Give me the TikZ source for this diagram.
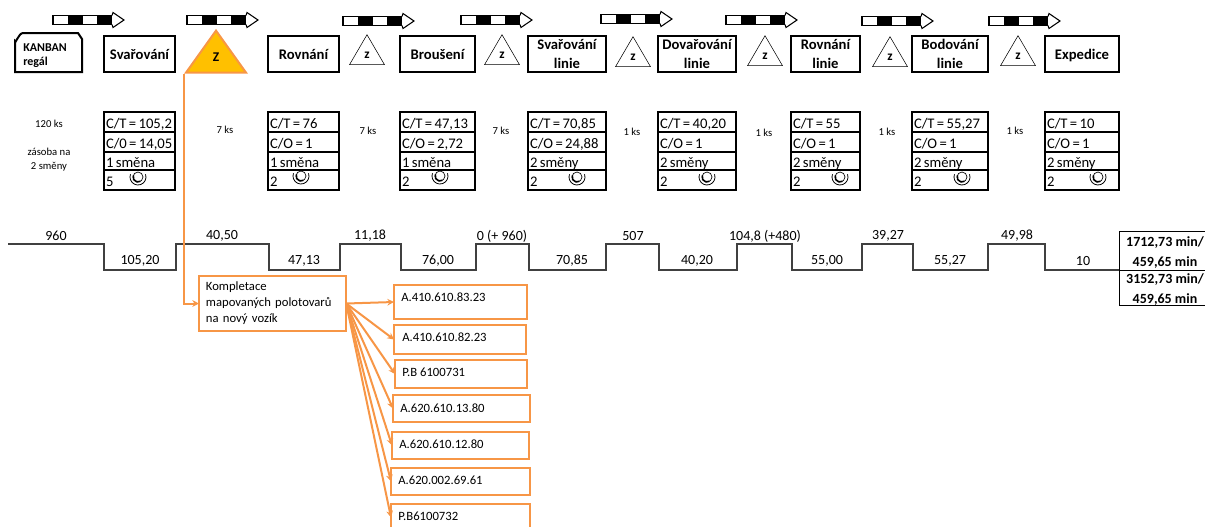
\documentclass[tikz,border=0pt]{standalone}
\usepackage{fontspec}
\setmainfont{Carlito}
\usepackage{xcolor}
\usetikzlibrary{shapes.geometric,arrows.meta,positioning}
\definecolor{lineorange}{HTML}{F79646}
\definecolor{zfill}{HTML}{FFC000}
\begin{document}
\begin{tikzpicture}[
      x=0.75pt,y=-0.75pt,
      boxsize/.style 2 args={minimum width=#1*0.75pt,minimum height=#2*0.75pt},
      proc/.style={draw,line width=1.5pt,anchor=north west,outer sep=0pt,inner sep=0pt,text depth=0pt,
                   font=\bfseries\fontsize{11}{14.5}\selectfont,align=center},
      cell/.style 2 args={draw,line width=1.5pt,anchor=north west,outer sep=0pt,inner xsep=1.5pt,inner ysep=0pt,
                   text width=#1*0.75pt-3pt,minimum height=#2*0.75pt,
                   text height=10pt,text depth=1pt,font=\fontsize{11}{13}\selectfont,
                   execute at begin node={\spaceskip=1.76pt\relax}},
      ztri/.style={draw,isosceles triangle,isosceles triangle stretches,shape border rotate=90,
                   anchor=apex,inner sep=0pt,minimum width=26.25pt,minimum height=22.5pt,
                   font=\bfseries\fontsize{10}{12}\selectfont},
      stock/.style={font=\fontsize{8}{10.5}\selectfont,align=center},
      val/.style={font=\fontsize{10.5}{12}\selectfont},
      total/.style={draw,line width=0.7pt,anchor=north west,outer sep=0pt,inner sep=0pt,align=center,
                    text height=25pt,font=\bfseries\fontsize{10.5}{15}\selectfont},
      part/.style={draw=lineorange,line width=1.5pt,anchor=north west,outer sep=0pt,inner sep=0pt},
      partlbl/.style={anchor=west,font=\fontsize{9.5}{12}\selectfont,inner sep=0pt},
      arr/.style={-{Stealth[length=5pt,width=5pt]},line width=1.5pt,lineorange},
      pusharrow/.pic={
        \draw[line width=0.8pt] (0,-4.5) rectangle (59,4.5);
        \fill (15,-4.5) rectangle (30,4.5);
        \fill (44,-4.5) rectangle (59,4.5);
        \draw[line width=0.8pt,fill=white] (59,-4.5) -- (60,-7.5) -- (71,0) -- (60,7.5) -- (59,4.5);
      },
      horn/.pic={
        \draw[line width=0.6pt] (0,0) ++(-20:8) arc[start angle=-20,end angle=200,radius=8];
        \draw[line width=1.2pt] (0,0) ++(60:5) arc[start angle=60,end angle=200,radius=5];
        \draw[line width=0.5pt] (0,0) circle[radius=5];
      },
  ]
  \clip (0,0) rectangle (1205,526);

  % Push arrows
  \pic at (53,20) {pusharrow};
  \pic at (187,20) {pusharrow};
  \pic at (343,21) {pusharrow};
  \pic at (461,20) {pusharrow};
  \pic at (601,19) {pusharrow};
  \pic at (726,20) {pusharrow};
  \pic at (862,21) {pusharrow};
  \pic at (989,21) {pusharrow};

  % Kanban
  \draw[line width=1.5pt] (15,72) -- (15,41) to[out=-90,in=180] (23,33) -- (78,33) -- (82,39) -- (82,72) -- cycle;
  \node[anchor=north west,inner sep=0pt,align=left,font=\bfseries\fontsize{9}{10.5}\selectfont] (kanban) at (23,43) {KANBAN\\regál};

  % Process boxes
  \node[proc,boxsize={71}{36}] (svar) at (104,36) {Svařování};
  \node[proc,boxsize={71}{36}] (rov) at (268,36) {Rovnání};
  \node[proc,boxsize={75}{36}] (brou) at (400,36) {Broušení};
  \node[proc,boxsize={78}{36}] (svarl) at (528,36) {Svařování\\linie};
  \node[proc,boxsize={78}{36}] (dova) at (658,36) {Dovařování\\linie};
  \node[proc,boxsize={69}{36}] (rovl) at (791,36) {Rovnání\\linie};
  \node[proc,boxsize={76}{36}] (bod) at (912,36) {Bodování\\linie};
  \node[proc,boxsize={74}{36}] (exp) at (1045,36) {Expedice};

  % Triangles
  \node[ztri,draw=lineorange,line width=1.5pt,fill=zfill,minimum width=45pt,minimum height=31.5pt] (zmain) at (216,28) {Z};
  \node[ztri] (z1) at (367,34) {z};
  \node[ztri] (z2) at (502,34) {z};
  \node[ztri] (z3) at (633,36) {z};
  \node[ztri] (z4) at (765,35) {z};
  \node[ztri] (z5) at (890,36) {z};
  \node[ztri] (z6) at (1018,35) {z};

  % Data boxes
  \node[cell={71}{20}] (ct1) at (104,112) {C/T = 105,2};
  \node[cell={71}{20}] (co1) at (104,132) {C/0 = 14,05};
  \node[cell={71}{18}] (sm1) at (104,152) {1 směna};
  \node[cell={71}{20}] (op1) at (104,170) {5};
  \node[cell={71}{20}] (ct2) at (268,112) {C/T = 76};
  \node[cell={71}{20}] (co2) at (268,132) {C/O = 1};
  \node[cell={71}{18}] (sm2) at (268,152) {1 směna};
  \node[cell={71}{20}] (op2) at (268,170) {2};
  \node[cell={75}{20}] (ct3) at (400,112) {C/T = 47,13};
  \node[cell={75}{20}] (co3) at (400,132) {C/O = 2,72};
  \node[cell={75}{18}] (sm3) at (400,152) {1 směna};
  \node[cell={75}{20}] (op3) at (400,170) {2};
  \node[cell={78}{20}] (ct4) at (528,112) {C/T = 70,85};
  \node[cell={78}{20}] (co4) at (528,132) {C/O = 24,88};
  \node[cell={78}{18}] (sm4) at (528,152) {2 směny};
  \node[cell={78}{20}] (op4) at (528,170) {2};
  \node[cell={78}{20}] (ct5) at (658,112) {C/T = 40,20};
  \node[cell={78}{20}] (co5) at (658,132) {C/O = 1};
  \node[cell={78}{18}] (sm5) at (658,152) {2 směny};
  \node[cell={78}{20}] (op5) at (658,170) {2};
  \node[cell={69}{20}] (ct6) at (791,112) {C/T = 55};
  \node[cell={69}{20}] (co6) at (791,132) {C/O = 1};
  \node[cell={69}{18}] (sm6) at (791,152) {2 směny};
  \node[cell={69}{20}] (op6) at (791,170) {2};
  \node[cell={76}{20}] (ct7) at (912,112) {C/T = 55,27};
  \node[cell={76}{20}] (co7) at (912,132) {C/O = 1};
  \node[cell={76}{18}] (sm7) at (912,152) {2 směny};
  \node[cell={76}{20}] (op7) at (912,170) {2};
  \node[cell={74}{20}] (ct8) at (1045,112) {C/T = 10};
  \node[cell={74}{20}] (co8) at (1045,132) {C/O = 1};
  \node[cell={74}{18}] (sm8) at (1045,152) {2 směny};
  \node[cell={74}{20}] (op8) at (1045,170) {2};

  % Operators
  \pic at (138,177) {horn};
  \pic at (301,176) {horn};
  \pic at (440,176) {horn};
  \pic at (577,177) {horn};
  \pic at (707,177) {horn};
  \pic at (840,177) {horn};
  \pic at (962,177) {horn};
  \pic at (1098,177) {horn};

  % Stock
  \node[stock] (st0) at (49,124) {120 ks};
  \node[stock] (st0b) at (49,160) {zásoba na\\2 směny};
  \node[stock] (st1) at (225,130) {7 ks};
  \node[stock] (st2) at (368,131) {7 ks};
  \node[stock] (st3) at (501,131) {7 ks};
  \node[stock] (st4) at (632,132) {1 ks};
  \node[stock] (st5) at (764,133) {1 ks};
  \node[stock] (st6) at (887,132) {1 ks};
  \node[stock] (st7) at (1015,131) {1 ks};

  % Timeline
  \draw[line width=0.9pt,black!75] (8,244) -- (104,244) -- (104,270) -- (176,270) -- (176,244) -- (269,244)
    -- (269,270) -- (340,270) -- (340,244) -- (401,244) -- (401,270) -- (476,270) -- (476,244) -- (529,244)
    -- (529,270) -- (606,270) -- (606,244) -- (659,244) -- (659,270) -- (737,270) -- (737,244) -- (792,244)
    -- (792,270) -- (862,270) -- (862,244) -- (913,244) -- (913,270) -- (988,270) -- (988,244) -- (1045,244)
    -- (1045,270) -- (1119,270);
  \node[val] (t1) at (56,236) {960};
  \node[val] (t2) at (140,261) {105,20};
  \node[val] (t3) at (222,236) {40,50};
  \node[val] (t4) at (304,261) {47,13};
  \node[val] (t5) at (370,236) {11,18};
  \node[val] (t6) at (438,261) {76,00};
  \node[val] (t7) at (502,236) {0 (+ 960)};
  \node[val] (t8) at (572,261) {70,85};
  \node[val] (t9) at (633,236) {507};
  \node[val] (t10) at (697,261) {40,20};
  \node[val] (t11) at (765,236) {104,8 (+480)};
  \node[val] (t12) at (827,261) {55,00};
  \node[val] (t13) at (888,236) {39,27};
  \node[val] (t14) at (950,261) {55,27};
  \node[val] (t15) at (1017,236) {49,98};
  \node[val] (t16) at (1083,261) {10};

  % Totals
  \node[total,boxsize={92}{39}] (lead) at (1119,231) {1712,73 min/\\459,65 min};
  \node[total,boxsize={92}{35}] (leadb) at (1119,270) {3152,73 min/\\459,65 min};

  % Kompletace
  \node[part,boxsize={147}{55},align=left,inner xsep=5.2pt,text width=100pt,
        font=\fontsize{9.5}{12}\selectfont] (komp) at (199,276) {Kompletace\\mapovaných polotovarů\\na nový vozík};
  \node[part,boxsize={133}{34}] (p1) at (394,285) {};
  \node[part,boxsize={132}{29}] (p2) at (394,325) {};
  \node[part,boxsize={132}{28}] (p3) at (395,360) {};
  \node[part,boxsize={137}{27}] (p4) at (393,395) {};
  \node[part,boxsize={137}{27}] (p5) at (392,432) {};
  \node[part,boxsize={139}{27}] (p6) at (391,468) {};
  \node[part,boxsize={139}{27}] (p7) at (391,504) {};
  \node[partlbl] (l1) at (401,297) {A.410.610.83.23};
  \node[partlbl] (l2) at (402,337) {A.410.610.82.23};
  \node[partlbl] (l3) at (402,372) {P.B 6100731};
  \node[partlbl] (l4) at (400,408) {A.620.610.13.80};
  \node[partlbl] (l5) at (399,444) {A.620.610.12.80};
  \node[partlbl] (l6) at (398,480) {A.620.002.69.61};
  \node[partlbl] (l7) at (398,516) {P.B6100732};

  % Orange flow
  \draw[arr] (zmain.left corner) |- (komp.west);
  \draw[arr] (komp.east) -- (p1.west);
  \draw[arr] (komp.east) -- (p2.west);
  \draw[arr] (komp.east) -- (p3.west);
  \draw[arr] (komp.east) -- (p4.west);
  \draw[arr] (komp.east) -- (p5.west);
  \draw[arr] (komp.east) -- (p6.west);
  \draw[arr] (komp.east) -- (p7.west);
  \end{tikzpicture}
\end{document}
